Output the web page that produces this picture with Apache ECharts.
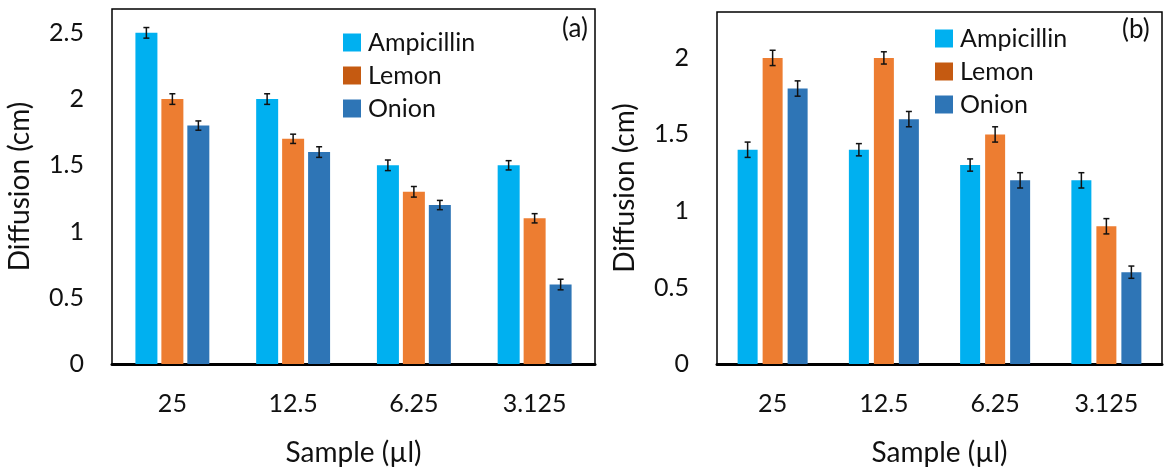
<!DOCTYPE html>
<html>
<head>
<meta charset="utf-8">
<script src="https://cdn.jsdelivr.net/npm/echarts@6/dist/echarts.min.js"></script>
<style>
  html, body { margin: 0; padding: 0; background: #fff; }
  #main { width: 1168px; height: 472px; }
</style>
</head>
<body>
<div id="main"></div>
<script>
  // categories (sample volume)
  var samples = ['25', '12.5', '6.25', '3.125'];
  var seriesNames = ['Ampicillin', 'Lemon', 'Onion'];

  // panel (a)
  var ampA = [2.5, 2.0, 1.5, 1.5];
  var lemonA = [2.0, 1.7, 1.3, 1.1];
  var onionA = [1.8, 1.6, 1.2, 0.6];
  var ampErrA = [0.04, 0.04, 0.04, 0.035];
  var lemonErrA = [0.04, 0.035, 0.04, 0.035];
  var onionErrA = [0.035, 0.04, 0.035, 0.04];

  // panel (b)
  var ampB = [1.4, 1.4, 1.3, 1.2];
  var lemonB = [2.0, 2.0, 1.5, 0.9];
  var onionB = [1.8, 1.6, 1.2, 0.6];
  var ampErrB = [0.05, 0.04, 0.04, 0.05];
  var lemonErrB = [0.05, 0.04, 0.05, 0.05];
  var onionErrB = [0.05, 0.05, 0.05, 0.04];

  var colors = ['#00B0F0', '#ED7D31', '#2E75B6'];
  var legendColors = ['#00B0F0', '#C55A11', '#2E75B6'];
  var font = 'Lato';
  var txt = '#111';

  var chart = echarts.init(document.getElementById('main'));

  // error bars drawn next to bar k of a 3-bar group
  function makeErr(idx, k, vals, errs, barW, gap) {
    var off = (k - 1) * (barW + gap);
    return {
      type: 'custom',
      xAxisIndex: idx, yAxisIndex: idx,
      silent: true,
      z: 5,
      data: vals.map(function (v, i) { return [i, v - errs[i], v + errs[i]]; }),
      renderItem: function (params, api) {
        var lo = api.coord([api.value(0), api.value(1)]);
        var hi = api.coord([api.value(0), api.value(2)]);
        var x = lo[0] + off;
        var cap = 3;
        var st = { stroke: '#111', lineWidth: 1.5 };
        return {
          type: 'group',
          children: [
            { type: 'line', shape: { x1: x, y1: lo[1], x2: x, y2: hi[1] }, style: st },
            { type: 'line', shape: { x1: x - cap, y1: lo[1], x2: x + cap, y2: lo[1] }, style: st },
            { type: 'line', shape: { x1: x - cap, y1: hi[1], x2: x + cap, y2: hi[1] }, style: st }
          ]
        };
      }
    };
  }

  function bar(idx, k, vals, barW, gap) {
    return {
      name: seriesNames[k],
      type: 'bar',
      xAxisIndex: idx, yAxisIndex: idx,
      data: vals,
      barWidth: barW,
      barGap: Math.round(gap / barW * 100) + '%',
      itemStyle: { color: colors[k] },
      emphasis: { disabled: true }
    };
  }

  function xAxis(idx) {
    return {
      type: 'category', gridIndex: idx, data: samples,
      axisTick: { show: false },
      axisLine: { lineStyle: { color: '#000', width: 3 } },
      axisLabel: { color: txt, fontSize: 25, fontFamily: font, margin: 27 },
      name: 'Sample (µl)', nameLocation: 'middle', nameGap: 75,
      nameTextStyle: { color: txt, fontSize: 28, fontFamily: font }
    };
  }

  function yAxis(idx, max) {
    return {
      type: 'value', gridIndex: idx, min: 0, max: max, interval: 0.5,
      splitLine: { show: false },
      axisLine: { show: false },
      axisTick: { show: false },
      axisLabel: { color: txt, fontSize: 25, fontFamily: font, margin: 28, showMaxLabel: false },
      name: 'Diffusion (cm)', nameLocation: 'middle', nameGap: 78,
      nameTextStyle: { color: txt, fontSize: 28, fontFamily: font }
    };
  }

  function legend(left, top) {
    return {
      left: left, top: top, orient: 'vertical',
      itemWidth: 18, itemHeight: 18, itemGap: 8,
      icon: 'rect',
      textStyle: { color: txt, fontSize: 25, fontFamily: font, padding: [0, 0, 0, 2] },
      selectedMode: false,
      data: seriesNames.map(function (n, k) {
        return { name: n, itemStyle: { color: legendColors[k] } };
      })
    };
  }

  var wA = 22, gA = 4, wB = 20, gB = 5;

  chart.setOption({
    animation: false,
    grid: [
      { left: 112, top: 9, width: 483, height: 357, show: true, borderColor: '#000', borderWidth: 1.5 },
      { left: 717, top: 12, width: 445, height: 357, show: true, borderColor: '#000', borderWidth: 1.5 }
    ],
    legend: [legend(338, 25), legend(930, 21)],
    xAxis: [xAxis(0), xAxis(1)],
    yAxis: [yAxis(0, 2.68), yAxis(1, 2.3)],
    graphic: [
      { type: 'text', left: 562, top: 16, style: { text: '(a)', fontSize: 26, fontFamily: font, fill: txt } },
      { type: 'text', left: 1122, top: 17, style: { text: '(b)', fontSize: 26, fontFamily: font, fill: txt } }
    ],
    series: [
      bar(0, 0, ampA, wA, gA), bar(0, 1, lemonA, wA, gA), bar(0, 2, onionA, wA, gA),
      bar(1, 0, ampB, wB, gB), bar(1, 1, lemonB, wB, gB), bar(1, 2, onionB, wB, gB),
      makeErr(0, 0, ampA, ampErrA, wA, gA), makeErr(0, 1, lemonA, lemonErrA, wA, gA), makeErr(0, 2, onionA, onionErrA, wA, gA),
      makeErr(1, 0, ampB, ampErrB, wB, gB), makeErr(1, 1, lemonB, lemonErrB, wB, gB), makeErr(1, 2, onionB, onionErrB, wB, gB)
    ]
  });
</script>
</body>
</html>
